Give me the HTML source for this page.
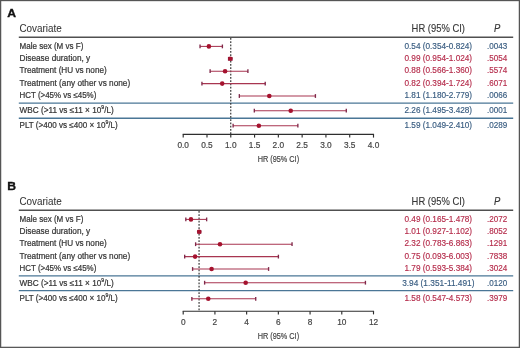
<!DOCTYPE html>
<html><head><meta charset="utf-8"><style>
html,body{margin:0;padding:0;background:#fff;}
body{width:520px;height:348px;overflow:hidden;}
svg{display:block;font-family:"Liberation Sans", sans-serif;will-change:transform;}
</style></head><body>
<svg width="520" height="348" viewBox="0 0 520 348">
<rect x="0" y="0" width="520" height="348" fill="#fff"/>
<rect x="0.62" y="0.55" width="518.76" height="346.8" fill="none" stroke="#555" stroke-width="1.25"/>
<text x="7.3" y="16.90" font-size="11.7" font-weight="bold" fill="#111" stroke="#111" stroke-width="0.35" textLength="8.8" lengthAdjust="spacingAndGlyphs">A</text>
<text x="19.4" y="31.90" font-size="10.6" fill="#363636" stroke="#363636" stroke-width="0.05" textLength="42.3" lengthAdjust="spacingAndGlyphs">Covariate</text>
<text x="411.6" y="32.20" font-size="10.3" fill="#363636" stroke="#363636" stroke-width="0.12" textLength="53.4" lengthAdjust="spacingAndGlyphs">HR (95% CI)</text>
<text x="494.0" y="31.50" font-size="10.4" font-style="italic" fill="#363636" stroke="#363636" stroke-width="0.15" textLength="6.3" lengthAdjust="spacingAndGlyphs">P</text>
<line x1="18.8" x2="513.2" y1="37.30" y2="37.30" stroke="#505050" stroke-width="1.4"/>
<line x1="18.8" x2="513.2" y1="103.05" y2="103.05" stroke="#4a7696" stroke-width="1.3"/>
<line x1="18.8" x2="513.2" y1="118.25" y2="118.25" stroke="#4a7696" stroke-width="1.3"/>
<line x1="230.77" x2="230.77" y1="37.90" y2="134.40" stroke="#262626" stroke-width="1.1" stroke-dasharray="1.8 1.45"/>
<text x="19.5" y="48.60" font-size="8.45" fill="#363636" stroke="#363636" stroke-width="0.22" textLength="63.9" lengthAdjust="spacingAndGlyphs">Male sex (M vs F)</text>
<text x="404.50" y="48.60" font-size="8.5" fill="#385c80" stroke="#385c80" stroke-width="0.154" textLength="67.6" lengthAdjust="spacingAndGlyphs">0.54 (0.354-0.824)</text>
<text x="487.00" y="48.60" font-size="8.5" fill="#385c80" stroke="#385c80" stroke-width="0.154" textLength="20.2" lengthAdjust="spacingAndGlyphs">.0043</text>
<line x1="200.04" x2="222.40" y1="46.40" y2="46.40" stroke="#a83550" stroke-width="1.05"/>
<line x1="200.04" x2="200.04" y1="44.50" y2="48.30" stroke="#80294a" stroke-width="1.35"/>
<line x1="222.40" x2="222.40" y1="44.50" y2="48.30" stroke="#80294a" stroke-width="1.35"/>
<circle cx="208.89" cy="46.40" r="2.3" fill="#a5122e"/>
<text x="19.5" y="61.00" font-size="8.45" fill="#363636" stroke="#363636" stroke-width="0.22" textLength="70.7" lengthAdjust="spacingAndGlyphs">Disease duration, y</text>
<text x="404.50" y="61.00" font-size="8.5" fill="#b52c4b" stroke="#b52c4b" stroke-width="0.154" textLength="67.6" lengthAdjust="spacingAndGlyphs">0.99 (0.954-1.024)</text>
<text x="487.00" y="61.00" font-size="8.5" fill="#b52c4b" stroke="#b52c4b" stroke-width="0.154" textLength="20.2" lengthAdjust="spacingAndGlyphs">.5054</text>
<line x1="228.59" x2="231.92" y1="58.80" y2="58.80" stroke="#a83550" stroke-width="1.05"/>
<line x1="228.59" x2="228.59" y1="56.90" y2="60.70" stroke="#80294a" stroke-width="1.35"/>
<line x1="231.92" x2="231.92" y1="56.90" y2="60.70" stroke="#80294a" stroke-width="1.35"/>
<circle cx="230.30" cy="58.80" r="2.3" fill="#a5122e"/>
<text x="19.5" y="73.40" font-size="8.45" fill="#363636" stroke="#363636" stroke-width="0.22" textLength="87.2" lengthAdjust="spacingAndGlyphs">Treatment (HU vs none)</text>
<text x="404.50" y="73.40" font-size="8.5" fill="#b52c4b" stroke="#b52c4b" stroke-width="0.154" textLength="67.6" lengthAdjust="spacingAndGlyphs">0.88 (0.566-1.360)</text>
<text x="487.00" y="73.40" font-size="8.5" fill="#b52c4b" stroke="#b52c4b" stroke-width="0.154" textLength="20.2" lengthAdjust="spacingAndGlyphs">.5574</text>
<line x1="210.13" x2="247.90" y1="71.20" y2="71.20" stroke="#a83550" stroke-width="1.05"/>
<line x1="210.13" x2="210.13" y1="69.30" y2="73.10" stroke="#80294a" stroke-width="1.35"/>
<line x1="247.90" x2="247.90" y1="69.30" y2="73.10" stroke="#80294a" stroke-width="1.35"/>
<circle cx="225.07" cy="71.20" r="2.3" fill="#a5122e"/>
<text x="19.5" y="85.80" font-size="8.45" fill="#363636" stroke="#363636" stroke-width="0.22" textLength="110.7" lengthAdjust="spacingAndGlyphs">Treatment (any other vs none)</text>
<text x="404.50" y="85.80" font-size="8.5" fill="#b52c4b" stroke="#b52c4b" stroke-width="0.154" textLength="67.6" lengthAdjust="spacingAndGlyphs">0.82 (0.394-1.724)</text>
<text x="487.00" y="85.80" font-size="8.5" fill="#b52c4b" stroke="#b52c4b" stroke-width="0.154" textLength="20.2" lengthAdjust="spacingAndGlyphs">.6071</text>
<line x1="201.94" x2="265.22" y1="83.60" y2="83.60" stroke="#a83550" stroke-width="1.05"/>
<line x1="201.94" x2="201.94" y1="81.70" y2="85.50" stroke="#80294a" stroke-width="1.35"/>
<line x1="265.22" x2="265.22" y1="81.70" y2="85.50" stroke="#80294a" stroke-width="1.35"/>
<circle cx="222.21" cy="83.60" r="2.3" fill="#a5122e"/>
<text x="19.5" y="98.20" font-size="8.45" fill="#363636" stroke="#363636" stroke-width="0.22" textLength="76.8" lengthAdjust="spacingAndGlyphs">HCT (&gt;45% vs ≤45%)</text>
<text x="404.50" y="98.20" font-size="8.5" fill="#385c80" stroke="#385c80" stroke-width="0.154" textLength="67.6" lengthAdjust="spacingAndGlyphs">1.81 (1.180-2.779)</text>
<text x="487.00" y="98.20" font-size="8.5" fill="#385c80" stroke="#385c80" stroke-width="0.154" textLength="20.2" lengthAdjust="spacingAndGlyphs">.0066</text>
<line x1="239.34" x2="315.41" y1="96.00" y2="96.00" stroke="#a83550" stroke-width="1.05"/>
<line x1="239.34" x2="239.34" y1="94.10" y2="97.90" stroke="#80294a" stroke-width="1.35"/>
<line x1="315.41" x2="315.41" y1="94.10" y2="97.90" stroke="#80294a" stroke-width="1.35"/>
<circle cx="269.31" cy="96.00" r="2.3" fill="#a5122e"/>
<text x="19.5" y="113.40" font-size="8.45" fill="#363636" stroke="#363636" stroke-width="0.22" textLength="94.3" lengthAdjust="spacingAndGlyphs">WBC (&gt;11 vs ≤11 × 10<tspan dy="-4.6" font-size="5.4">9</tspan><tspan dy="4.6">/L)</tspan></text>
<text x="404.50" y="113.40" font-size="8.5" fill="#385c80" stroke="#385c80" stroke-width="0.154" textLength="67.6" lengthAdjust="spacingAndGlyphs">2.26 (1.495-3.428)</text>
<text x="487.00" y="113.40" font-size="8.5" fill="#385c80" stroke="#385c80" stroke-width="0.154" textLength="20.2" lengthAdjust="spacingAndGlyphs">.0001</text>
<line x1="254.32" x2="346.29" y1="110.70" y2="110.70" stroke="#a83550" stroke-width="1.05"/>
<line x1="254.32" x2="254.32" y1="108.80" y2="112.60" stroke="#80294a" stroke-width="1.35"/>
<line x1="346.29" x2="346.29" y1="108.80" y2="112.60" stroke="#80294a" stroke-width="1.35"/>
<circle cx="290.72" cy="110.70" r="2.3" fill="#a5122e"/>
<text x="19.5" y="128.10" font-size="8.45" fill="#363636" stroke="#363636" stroke-width="0.22" textLength="98.2" lengthAdjust="spacingAndGlyphs">PLT (&gt;400 vs ≤400 × 10<tspan dy="-4.6" font-size="5.4">9</tspan><tspan dy="4.6">/L)</tspan></text>
<text x="404.50" y="128.10" font-size="8.5" fill="#385c80" stroke="#385c80" stroke-width="0.154" textLength="67.6" lengthAdjust="spacingAndGlyphs">1.59 (1.049-2.410)</text>
<text x="487.00" y="128.10" font-size="8.5" fill="#385c80" stroke="#385c80" stroke-width="0.154" textLength="20.2" lengthAdjust="spacingAndGlyphs">.0289</text>
<line x1="233.11" x2="297.86" y1="125.70" y2="125.70" stroke="#a83550" stroke-width="1.05"/>
<line x1="233.11" x2="233.11" y1="123.80" y2="127.60" stroke="#80294a" stroke-width="1.35"/>
<line x1="297.86" x2="297.86" y1="123.80" y2="127.60" stroke="#80294a" stroke-width="1.35"/>
<circle cx="258.84" cy="125.70" r="2.3" fill="#a5122e"/>
<line x1="182.65" x2="374.05" y1="134.40" y2="134.40" stroke="#2e2e2e" stroke-width="1.15"/>
<line x1="183.20" x2="183.20" y1="134.40" y2="137.60" stroke="#2e2e2e" stroke-width="1.15"/>
<text x="183.20" y="147.80" font-size="8.3" fill="#444" stroke="#444" stroke-width="0.18" text-anchor="middle">0.0</text>
<line x1="206.99" x2="206.99" y1="134.40" y2="137.60" stroke="#2e2e2e" stroke-width="1.15"/>
<text x="206.99" y="147.80" font-size="8.3" fill="#444" stroke="#444" stroke-width="0.18" text-anchor="middle">0.5</text>
<line x1="230.77" x2="230.77" y1="134.40" y2="137.60" stroke="#2e2e2e" stroke-width="1.15"/>
<text x="230.77" y="147.80" font-size="8.3" fill="#444" stroke="#444" stroke-width="0.18" text-anchor="middle">1.0</text>
<line x1="254.56" x2="254.56" y1="134.40" y2="137.60" stroke="#2e2e2e" stroke-width="1.15"/>
<text x="254.56" y="147.80" font-size="8.3" fill="#444" stroke="#444" stroke-width="0.18" text-anchor="middle">1.5</text>
<line x1="278.35" x2="278.35" y1="134.40" y2="137.60" stroke="#2e2e2e" stroke-width="1.15"/>
<text x="278.35" y="147.80" font-size="8.3" fill="#444" stroke="#444" stroke-width="0.18" text-anchor="middle">2.0</text>
<line x1="302.14" x2="302.14" y1="134.40" y2="137.60" stroke="#2e2e2e" stroke-width="1.15"/>
<text x="302.14" y="147.80" font-size="8.3" fill="#444" stroke="#444" stroke-width="0.18" text-anchor="middle">2.5</text>
<line x1="325.93" x2="325.93" y1="134.40" y2="137.60" stroke="#2e2e2e" stroke-width="1.15"/>
<text x="325.93" y="147.80" font-size="8.3" fill="#444" stroke="#444" stroke-width="0.18" text-anchor="middle">3.0</text>
<line x1="349.71" x2="349.71" y1="134.40" y2="137.60" stroke="#2e2e2e" stroke-width="1.15"/>
<text x="349.71" y="147.80" font-size="8.3" fill="#444" stroke="#444" stroke-width="0.18" text-anchor="middle">3.5</text>
<line x1="373.50" x2="373.50" y1="134.40" y2="137.60" stroke="#2e2e2e" stroke-width="1.15"/>
<text x="373.50" y="147.80" font-size="8.3" fill="#444" stroke="#444" stroke-width="0.18" text-anchor="middle">4.0</text>
<text x="257.7" y="161.80" font-size="9.8" fill="#444" stroke="#444" stroke-width="0.2" textLength="41.4" lengthAdjust="spacingAndGlyphs">HR (95% CI)</text>
<text x="7.3" y="189.90" font-size="11.7" font-weight="bold" fill="#111" stroke="#111" stroke-width="0.35" textLength="8.8" lengthAdjust="spacingAndGlyphs">B</text>
<text x="19.4" y="204.90" font-size="10.6" fill="#363636" stroke="#363636" stroke-width="0.05" textLength="42.3" lengthAdjust="spacingAndGlyphs">Covariate</text>
<text x="411.6" y="205.20" font-size="10.3" fill="#363636" stroke="#363636" stroke-width="0.12" textLength="53.4" lengthAdjust="spacingAndGlyphs">HR (95% CI)</text>
<text x="494.0" y="204.50" font-size="10.4" font-style="italic" fill="#363636" stroke="#363636" stroke-width="0.15" textLength="6.3" lengthAdjust="spacingAndGlyphs">P</text>
<line x1="18.8" x2="513.2" y1="210.30" y2="210.30" stroke="#505050" stroke-width="1.4"/>
<line x1="18.8" x2="513.2" y1="275.95" y2="275.95" stroke="#4a7696" stroke-width="1.3"/>
<line x1="18.8" x2="513.2" y1="290.65" y2="290.65" stroke="#4a7696" stroke-width="1.3"/>
<line x1="199.06" x2="199.06" y1="210.90" y2="311.20" stroke="#262626" stroke-width="1.1" stroke-dasharray="1.8 1.45"/>
<text x="19.5" y="221.60" font-size="8.45" fill="#363636" stroke="#363636" stroke-width="0.22" textLength="63.9" lengthAdjust="spacingAndGlyphs">Male sex (M vs F)</text>
<text x="404.50" y="221.60" font-size="8.5" fill="#b52c4b" stroke="#b52c4b" stroke-width="0.154" textLength="67.6" lengthAdjust="spacingAndGlyphs">0.49 (0.165-1.478)</text>
<text x="487.00" y="221.60" font-size="8.5" fill="#b52c4b" stroke="#b52c4b" stroke-width="0.154" textLength="20.2" lengthAdjust="spacingAndGlyphs">.2072</text>
<line x1="185.82" x2="206.64" y1="219.40" y2="219.40" stroke="#a83550" stroke-width="1.05"/>
<line x1="185.82" x2="185.82" y1="217.50" y2="221.30" stroke="#80294a" stroke-width="1.35"/>
<line x1="206.64" x2="206.64" y1="217.50" y2="221.30" stroke="#80294a" stroke-width="1.35"/>
<circle cx="190.97" cy="219.40" r="2.3" fill="#a5122e"/>
<text x="19.5" y="234.00" font-size="8.45" fill="#363636" stroke="#363636" stroke-width="0.22" textLength="70.7" lengthAdjust="spacingAndGlyphs">Disease duration, y</text>
<text x="404.50" y="234.00" font-size="8.5" fill="#b52c4b" stroke="#b52c4b" stroke-width="0.154" textLength="67.6" lengthAdjust="spacingAndGlyphs">1.01 (0.927-1.102)</text>
<text x="487.00" y="234.00" font-size="8.5" fill="#b52c4b" stroke="#b52c4b" stroke-width="0.154" textLength="20.2" lengthAdjust="spacingAndGlyphs">.8052</text>
<line x1="197.90" x2="200.68" y1="231.80" y2="231.80" stroke="#a83550" stroke-width="1.05"/>
<line x1="197.90" x2="197.90" y1="229.90" y2="233.70" stroke="#80294a" stroke-width="1.35"/>
<line x1="200.68" x2="200.68" y1="229.90" y2="233.70" stroke="#80294a" stroke-width="1.35"/>
<circle cx="199.22" cy="231.80" r="2.3" fill="#a5122e"/>
<text x="19.5" y="246.40" font-size="8.45" fill="#363636" stroke="#363636" stroke-width="0.22" textLength="87.2" lengthAdjust="spacingAndGlyphs">Treatment (HU vs none)</text>
<text x="404.50" y="246.40" font-size="8.5" fill="#b52c4b" stroke="#b52c4b" stroke-width="0.154" textLength="67.6" lengthAdjust="spacingAndGlyphs">2.32 (0.783-6.863)</text>
<text x="487.00" y="246.40" font-size="8.5" fill="#b52c4b" stroke="#b52c4b" stroke-width="0.154" textLength="20.2" lengthAdjust="spacingAndGlyphs">.1291</text>
<line x1="195.62" x2="292.04" y1="244.20" y2="244.20" stroke="#a83550" stroke-width="1.05"/>
<line x1="195.62" x2="195.62" y1="242.30" y2="246.10" stroke="#80294a" stroke-width="1.35"/>
<line x1="292.04" x2="292.04" y1="242.30" y2="246.10" stroke="#80294a" stroke-width="1.35"/>
<circle cx="219.99" cy="244.20" r="2.3" fill="#a5122e"/>
<text x="19.5" y="258.80" font-size="8.45" fill="#363636" stroke="#363636" stroke-width="0.22" textLength="110.7" lengthAdjust="spacingAndGlyphs">Treatment (any other vs none)</text>
<text x="404.50" y="258.80" font-size="8.5" fill="#b52c4b" stroke="#b52c4b" stroke-width="0.154" textLength="67.6" lengthAdjust="spacingAndGlyphs">0.75 (0.093-6.003)</text>
<text x="487.00" y="258.80" font-size="8.5" fill="#b52c4b" stroke="#b52c4b" stroke-width="0.154" textLength="20.2" lengthAdjust="spacingAndGlyphs">.7838</text>
<line x1="184.67" x2="278.40" y1="256.60" y2="256.60" stroke="#a83550" stroke-width="1.05"/>
<line x1="184.67" x2="184.67" y1="254.70" y2="258.50" stroke="#80294a" stroke-width="1.35"/>
<line x1="278.40" x2="278.40" y1="254.70" y2="258.50" stroke="#80294a" stroke-width="1.35"/>
<circle cx="195.09" cy="256.60" r="2.3" fill="#a5122e"/>
<text x="19.5" y="271.20" font-size="8.45" fill="#363636" stroke="#363636" stroke-width="0.22" textLength="76.8" lengthAdjust="spacingAndGlyphs">HCT (&gt;45% vs ≤45%)</text>
<text x="404.50" y="271.20" font-size="8.5" fill="#b52c4b" stroke="#b52c4b" stroke-width="0.154" textLength="67.6" lengthAdjust="spacingAndGlyphs">1.79 (0.593-5.384)</text>
<text x="487.00" y="271.20" font-size="8.5" fill="#b52c4b" stroke="#b52c4b" stroke-width="0.154" textLength="20.2" lengthAdjust="spacingAndGlyphs">.3024</text>
<line x1="192.60" x2="268.58" y1="269.00" y2="269.00" stroke="#a83550" stroke-width="1.05"/>
<line x1="192.60" x2="192.60" y1="267.10" y2="270.90" stroke="#80294a" stroke-width="1.35"/>
<line x1="268.58" x2="268.58" y1="267.10" y2="270.90" stroke="#80294a" stroke-width="1.35"/>
<circle cx="211.59" cy="269.00" r="2.3" fill="#a5122e"/>
<text x="19.5" y="286.40" font-size="8.45" fill="#363636" stroke="#363636" stroke-width="0.22" textLength="94.3" lengthAdjust="spacingAndGlyphs">WBC (&gt;11 vs ≤11 × 10<tspan dy="-4.6" font-size="5.4">9</tspan><tspan dy="4.6">/L)</tspan></text>
<text x="402.15" y="286.40" font-size="8.5" fill="#385c80" stroke="#385c80" stroke-width="0.154" textLength="72.3" lengthAdjust="spacingAndGlyphs">3.94 (1.351-11.491)</text>
<text x="487.00" y="286.40" font-size="8.5" fill="#385c80" stroke="#385c80" stroke-width="0.154" textLength="20.2" lengthAdjust="spacingAndGlyphs">.0120</text>
<line x1="204.62" x2="365.43" y1="282.70" y2="282.70" stroke="#a83550" stroke-width="1.05"/>
<line x1="204.62" x2="204.62" y1="280.80" y2="284.60" stroke="#80294a" stroke-width="1.35"/>
<line x1="365.43" x2="365.43" y1="280.80" y2="284.60" stroke="#80294a" stroke-width="1.35"/>
<circle cx="245.68" cy="282.70" r="2.3" fill="#a5122e"/>
<text x="19.5" y="301.10" font-size="8.45" fill="#363636" stroke="#363636" stroke-width="0.22" textLength="98.2" lengthAdjust="spacingAndGlyphs">PLT (&gt;400 vs ≤400 × 10<tspan dy="-4.6" font-size="5.4">9</tspan><tspan dy="4.6">/L)</tspan></text>
<text x="404.50" y="301.10" font-size="8.5" fill="#b52c4b" stroke="#b52c4b" stroke-width="0.154" textLength="67.6" lengthAdjust="spacingAndGlyphs">1.58 (0.547-4.573)</text>
<text x="487.00" y="301.10" font-size="8.5" fill="#b52c4b" stroke="#b52c4b" stroke-width="0.154" textLength="20.2" lengthAdjust="spacingAndGlyphs">.3979</text>
<line x1="191.87" x2="255.72" y1="298.80" y2="298.80" stroke="#a83550" stroke-width="1.05"/>
<line x1="191.87" x2="191.87" y1="296.90" y2="300.70" stroke="#80294a" stroke-width="1.35"/>
<line x1="255.72" x2="255.72" y1="296.90" y2="300.70" stroke="#80294a" stroke-width="1.35"/>
<circle cx="208.26" cy="298.80" r="2.3" fill="#a5122e"/>
<line x1="182.65" x2="374.05" y1="311.20" y2="311.20" stroke="#2e2e2e" stroke-width="1.15"/>
<line x1="183.20" x2="183.20" y1="311.20" y2="314.40" stroke="#2e2e2e" stroke-width="1.15"/>
<text x="183.20" y="324.60" font-size="8.3" fill="#444" stroke="#444" stroke-width="0.18" text-anchor="middle">0</text>
<line x1="214.92" x2="214.92" y1="311.20" y2="314.40" stroke="#2e2e2e" stroke-width="1.15"/>
<text x="214.92" y="324.60" font-size="8.3" fill="#444" stroke="#444" stroke-width="0.18" text-anchor="middle">2</text>
<line x1="246.63" x2="246.63" y1="311.20" y2="314.40" stroke="#2e2e2e" stroke-width="1.15"/>
<text x="246.63" y="324.60" font-size="8.3" fill="#444" stroke="#444" stroke-width="0.18" text-anchor="middle">4</text>
<line x1="278.35" x2="278.35" y1="311.20" y2="314.40" stroke="#2e2e2e" stroke-width="1.15"/>
<text x="278.35" y="324.60" font-size="8.3" fill="#444" stroke="#444" stroke-width="0.18" text-anchor="middle">6</text>
<line x1="310.07" x2="310.07" y1="311.20" y2="314.40" stroke="#2e2e2e" stroke-width="1.15"/>
<text x="310.07" y="324.60" font-size="8.3" fill="#444" stroke="#444" stroke-width="0.18" text-anchor="middle">8</text>
<line x1="341.78" x2="341.78" y1="311.20" y2="314.40" stroke="#2e2e2e" stroke-width="1.15"/>
<text x="341.78" y="324.60" font-size="8.3" fill="#444" stroke="#444" stroke-width="0.18" text-anchor="middle">10</text>
<line x1="373.50" x2="373.50" y1="311.20" y2="314.40" stroke="#2e2e2e" stroke-width="1.15"/>
<text x="373.50" y="324.60" font-size="8.3" fill="#444" stroke="#444" stroke-width="0.18" text-anchor="middle">12</text>
<text x="257.7" y="338.60" font-size="9.8" fill="#444" stroke="#444" stroke-width="0.2" textLength="41.4" lengthAdjust="spacingAndGlyphs">HR (95% CI)</text>
</svg>
</body></html>
